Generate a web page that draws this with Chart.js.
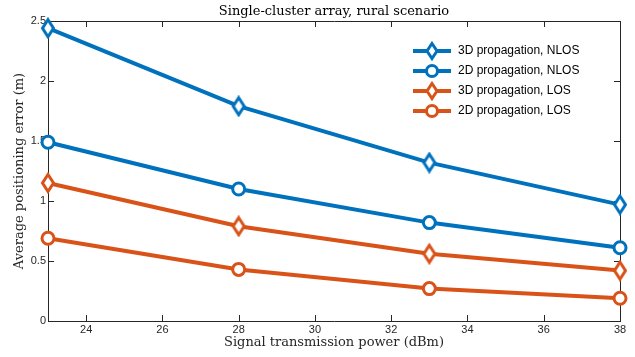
<!DOCTYPE html>
<html>
<head>
<meta charset="utf-8">
<script src="https://cdn.jsdelivr.net/npm/chart.js@4.4.1/dist/chart.umd.min.js"></script>
<style>
  html, body { margin: 0; padding: 0; background: #fff; }
  canvas { display: block; }
</style>
</head>
<body>
<canvas id="chart" width="635" height="357"></canvas>
<script>
// values
const power = [23, 28, 33, 38];
const nlos3d = [2.44, 1.79, 1.32, 0.97];
const nlos2d = [1.49, 1.10, 0.82, 0.61];
const los3d = [1.15, 0.79, 0.56, 0.42];
const los2d = [0.69, 0.43, 0.27, 0.19];
const xTicks = [24, 26, 28, 30, 32, 34, 36, 38];
const yTicks = [0, 0.5, 1, 1.5, 2, 2.5];
const names = ['3D propagation, NLOS', '2D propagation, NLOS', '3D propagation, LOS', '2D propagation, LOS'];

const BLUE = '#0072BD', ORANGE = '#D95319', AXIS = '#262626';

function diamond(color) {
  const c = document.createElement('canvas');
  c.width = 16; c.height = 22;
  const g = c.getContext('2d');
  g.fillStyle = '#fff'; g.strokeStyle = color; g.lineWidth = 3;
  g.beginPath();
  g.moveTo(8, 2.5); g.lineTo(13.5, 11); g.lineTo(8, 19.5); g.lineTo(2.5, 11); g.closePath();
  g.fill(); g.stroke();
  return c;
}

// legend icon: a short line with the marker on it
function legendIcon(color, shape) {
  const c = document.createElement('canvas');
  c.width = 38; c.height = 20;
  const g = c.getContext('2d');
  g.strokeStyle = color; g.lineWidth = 4;
  g.beginPath(); g.moveTo(0, 10); g.lineTo(38, 10); g.stroke();
  g.fillStyle = '#fff'; g.lineWidth = 3;
  g.beginPath();
  if (shape === 'diamond') {
    g.moveTo(19, 2.5); g.lineTo(24, 10); g.lineTo(19, 17.5); g.lineTo(14, 10); g.closePath();
  } else {
    g.arc(19, 10, 5.5, 0, Math.PI * 2);
  }
  g.fill(); g.stroke();
  return c;
}

const icons = [
  legendIcon(BLUE, 'diamond'), legendIcon(BLUE, 'circle'),
  legendIcon(ORANGE, 'diamond'), legendIcon(ORANGE, 'circle')
];

function series(label, vals, color, marker) {
  return {
    label: label,
    data: power.map((p, i) => ({ x: p, y: vals[i] })),
    borderColor: color,
    backgroundColor: '#fff',
    borderWidth: 4,
    pointStyle: marker === 'diamond' ? diamond(color) : 'circle',
    pointRadius: 6,
    pointBorderWidth: 3,
    pointBackgroundColor: '#fff',
    pointBorderColor: color,
    tension: 0,
    clip: false,
    xAxisID: 'x',
    yAxisID: 'y'
  };
}

// MATLAB style ticks pointing into the box, on all four sides
const boxTicks = {
  id: 'boxTicks',
  beforeDatasetsDraw(chart) {
    const { ctx, chartArea: a, scales: { x, y } } = chart;
    ctx.save();
    ctx.strokeStyle = AXIS;
    ctx.lineWidth = 1;
    ctx.beginPath();
    x.ticks.forEach(t => {
      const px = Math.round(x.getPixelForValue(t.value)) + 0.5;
      ctx.moveTo(px, a.bottom); ctx.lineTo(px, a.bottom - 6);
      ctx.moveTo(px, a.top); ctx.lineTo(px, a.top + 6);
    });
    y.ticks.forEach(t => {
      const py = Math.round(y.getPixelForValue(t.value)) + 0.5;
      ctx.moveTo(a.left, py); ctx.lineTo(a.left + 6, py);
      ctx.moveTo(a.right, py); ctx.lineTo(a.right - 6, py);
    });
    ctx.stroke();
    ctx.restore();
  }
};

// move the legend into the upper right of the plot
const legendInside = {
  id: 'legendInside',
  afterLayout(chart) {
    const lg = chart.legend;
    const w = lg.width, h = lg.height;
    lg.left = 404; lg.top = 37;
    lg.right = lg.left + w; lg.bottom = lg.top + h;
  }
};

const tickFont = { family: 'Liberation Sans', size: 11 };
const serif = { family: 'DejaVu Serif', size: 13 };

new Chart(document.getElementById('chart'), {
  type: 'line',
  data: {
    datasets: [
      series(names[0], nlos3d, BLUE, 'diamond'),
      series(names[1], nlos2d, BLUE, 'circle'),
      series(names[2], los3d, ORANGE, 'diamond'),
      series(names[3], los2d, ORANGE, 'circle')
    ]
  },
  options: {
    responsive: false,
    animation: false,
    layout: { padding: 0 },
    plugins: {
      tooltip: { enabled: false },
      title: { display: false },
      legend: {
        position: 'chartArea',
        align: 'start',
        labels: {
          usePointStyle: true,
          pointStyleWidth: 40,
          boxHeight: 12,
          padding: 8,
          color: '#000',
          font: { family: 'Liberation Sans', size: 12 },
          generateLabels(chart) {
            const items = Chart.defaults.plugins.legend.labels.generateLabels(chart);
            items.forEach((it, i) => { it.pointStyle = icons[i]; });
            return items;
          }
        }
      }
    },
    scales: {
      x: {
        type: 'linear', position: 'bottom', min: 23, max: 38,
        afterBuildTicks: s => { s.ticks = xTicks.map(v => ({ value: v })); },
        afterFit: s => { s.height = 36; },
        grid: { display: false, drawTicks: false },
        border: { display: true, color: AXIS, width: 1 },
        ticks: { autoSkip: false, maxRotation: 0, color: AXIS, font: tickFont, padding: 2 },
        title: { display: true, text: 'Signal transmission power (dBm)', color: AXIS, font: serif, padding: { top: 0, bottom: 7 } }
      },
      y: {
        type: 'linear', position: 'left', min: 0, max: 2.5,
        afterBuildTicks: s => { s.ticks = yTicks.map(v => ({ value: v })); },
        afterFit: s => { s.width = 48; },
        grid: { display: false, drawTicks: false },
        border: { display: true, color: AXIS, width: 1 },
        ticks: { color: AXIS, font: tickFont, padding: 2, callback: v => String(v) },
        title: { display: true, text: 'Average positioning error (m)', color: AXIS, font: serif, padding: { top: 12, bottom: 0 } }
      },
      x2: {
        type: 'linear', position: 'top', min: 23, max: 38, display: true,
        afterFit: s => { s.height = 21; },
        grid: { display: false, drawTicks: false },
        border: { display: true, color: AXIS, width: 1 },
        ticks: { display: false },
        title: { display: true, text: 'Single-cluster array, rural scenario', color: '#000', font: serif, padding: { top: 4, bottom: 0 } }
      },
      y2: {
        type: 'linear', position: 'right', min: 0, max: 2.5, display: true,
        afterFit: s => { s.width = 15; },
        grid: { display: false, drawTicks: false },
        border: { display: true, color: AXIS, width: 1 },
        ticks: { display: false }
      }
    }
  },
  plugins: [boxTicks, legendInside]
});
</script>
</body>
</html>
